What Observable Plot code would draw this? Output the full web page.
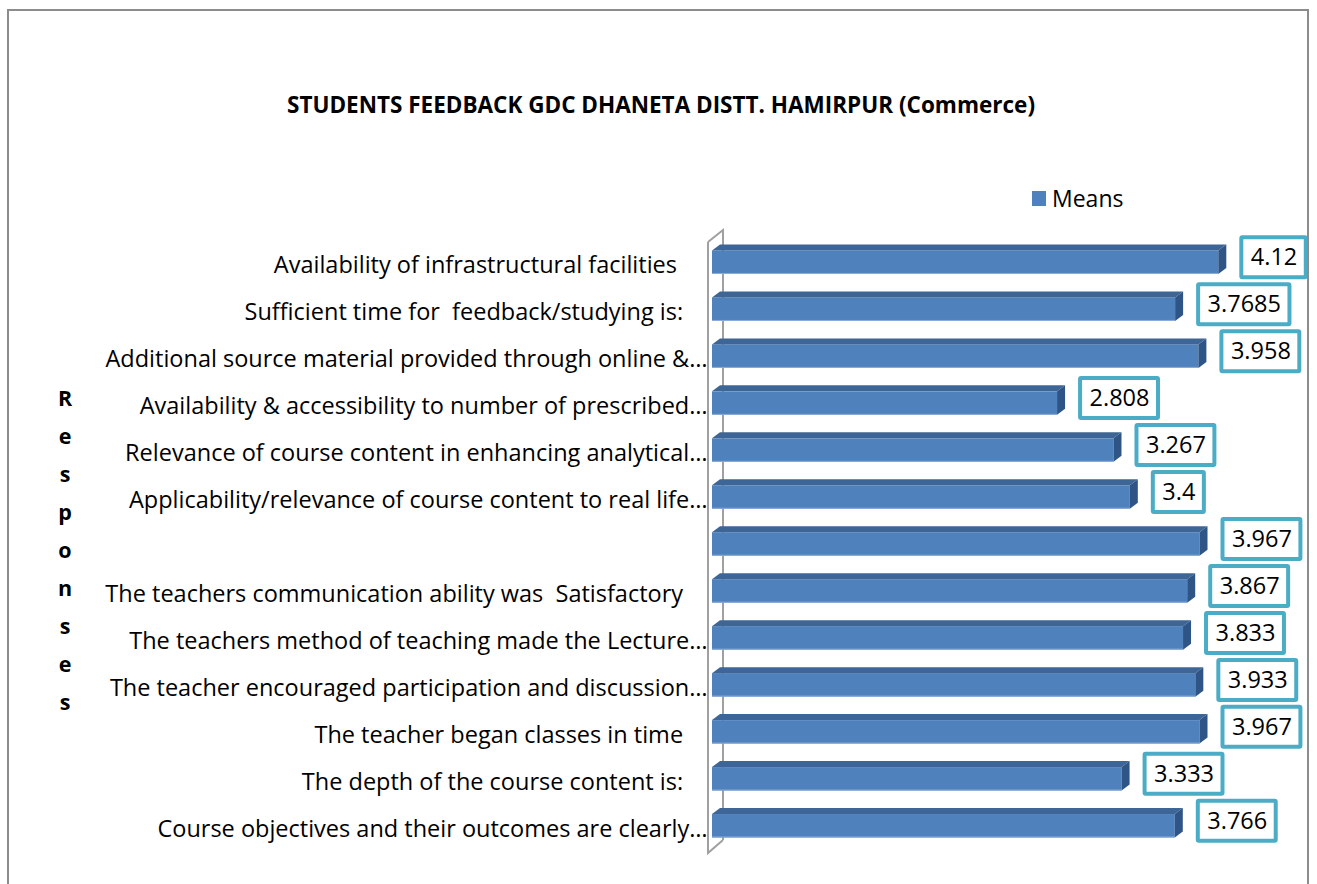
<!DOCTYPE html>
<html>
<head>
<meta charset="utf-8">
<script src="https://cdn.jsdelivr.net/npm/d3@7"></script>
<script src="https://cdn.jsdelivr.net/npm/@observablehq/plot@0.6"></script>
<style>
  body { margin: 0; background: #fff; font-family: "Open Sans", "Noto Sans", sans-serif; }
  #wrap { position: relative; width: 1317px; height: 884px; overflow: hidden; background: #fff; }
  #frame { position: absolute; left: 7px; top: 9px; width: 1302px; height: 900px; border: 2px solid #8c8c8c; box-sizing: border-box; pointer-events: none; }
  #title { position: absolute; left: 0; width: 1322px; top: 89px; text-align: center; font-weight: 700; font-size: 22.5px; color: #000; }
  #legend { position: absolute; left: 1032px; top: 182px; font-size: 23px; color: #000; display: flex; align-items: center; }
  #legend .sw { width: 14px; height: 15px; background: #4F81BD; margin-right: 6px; }
  #ytitle { position: absolute; left: 50px; width: 30px; top: 379px; text-align: center; font-weight: 700; font-size: 21.5px; line-height: 38px; color: #000; }
  #chart { position: absolute; left: 0; top: 0; }
</style>
</head>
<body>
<div id="wrap">
  <div id="chart"></div>
  <div id="title"></div>
  <div id="legend"><div class="sw"></div><span id="legendText"></span></div>
  <div id="ytitle"></div>
  <div id="frame"></div>
</div>
<script>
const chartTitle = "STUDENTS FEEDBACK GDC DHANETA DISTT. HAMIRPUR (Commerce)";
const seriesName = "Means";
const axisTitle = "Responses";

const categories = [
  "Availability of infrastructural facilities     ",
  "Sufficient time for  feedback/studying is:    ",
  "Additional source material provided through online &…",
  "Availability & accessibility to number of prescribed…",
  "Relevance of course content in enhancing analytical…",
  "Applicability/relevance of course content to real life…",
  "",
  "The teachers communication ability was  Satisfactory    ",
  "The teachers method of teaching made the Lecture…",
  "The teacher encouraged participation and discussion…",
  "The teacher began classes in time    ",
  "The depth of the course content is:    ",
  "Course objectives and their outcomes are clearly…"
];
const means = [4.12, 3.7685, 3.958, 2.808, 3.267, 3.4, 3.967, 3.867, 3.833, 3.933, 3.967, 3.333, 3.766];
const valueLabels = ["4.12", "3.7685", "3.958", "2.808", "3.267", "3.4", "3.967", "3.867", "3.833", "3.933", "3.967", "3.333", "3.766"];

const data = categories.map((c, i) => ({category: c, value: means[i], label: valueLabels[i]}));

document.getElementById("title").textContent = chartTitle;
document.getElementById("legendText").textContent = seriesName;
document.getElementById("ytitle").innerHTML = axisTitle.split("").map(ch => `<div>${ch}</div>`).join("");

const FRONT = "#4F81BD", TOP = "#3D6696", SIDE = "#2F5486";
const DX = 8, DY = -6;
const LABEL_SIZE = 23.5;
const ctx = document.createElement("canvas").getContext("2d");
ctx.font = `${LABEL_SIZE}px 'Open Sans'`;

function bandOf(y) {
  if (typeof y.bandwidth === "function") return y.bandwidth();
  return Math.abs(y(categories[1]) - y(categories[0])) * 0.5;
}

// 3D wall at the category axis
const wallMark = (index, scales) => {
  const x = scales.x, y = scales.y;
  const x0 = x(0);
  const [r0, r1] = y.range();
  const g = d3.create("svg:g").attr("fill", "none").attr("stroke", "#a0a0a0").attr("stroke-width", 2);
  g.append("path").attr("d",
    `M${x0 - 4},${r0 + 15} L${x0 + 11},${r0 + 3} L${x0 + 11},${r1 - 21}` +
    ` M${x0 - 4},${r0 + 15} L${x0 - 4},${r1 - 8} L${x0 + 11},${r1 - 21}`);
  return g.node();
};

// top and side faces of the 3D bars
const facesMark = (index, scales) => {
  const x = scales.x, y = scales.y;
  const bw = bandOf(y);
  const x0 = x(0);
  const g = d3.create("svg:g");
  for (const d of data) {
    const x1 = x(d.value), yt = y(d.category), yb = yt + bw;
    g.append("path").attr("fill", TOP)
      .attr("d", `M${x0},${yt} L${x1},${yt} L${x1 + DX},${yt + DY} L${x0 + DX},${yt + DY}Z`);
    g.append("path").attr("fill", SIDE)
      .attr("d", `M${x1},${yt} L${x1 + DX},${yt + DY} L${x1 + DX},${yb + DY} L${x1},${yb}Z`);
    g.append("line").attr("x1", x0).attr("x2", x1).attr("y1", yb - 0.5).attr("y2", yb - 0.5)
      .attr("stroke", "#8FAEDA").attr("stroke-width", 1);
  }
  return g.node();
};

// boxes around the data labels
const LABEL_GAP = 21, PAD = 11, BOX_H = 44, LABEL_DY = -5;
const boxesMark = (index, scales) => {
  const x = scales.x, y = scales.y;
  const bw = bandOf(y);
  const g = d3.create("svg:g").attr("fill", "#fff").attr("stroke", "#4BACC6").attr("stroke-width", 4);
  for (const d of data) {
    const w = ctx.measureText(d.label).width + 2 * PAD;
    const L = x(d.value) + LABEL_GAP;
    const cy = y(d.category) + bw / 2 + LABEL_DY;
    g.append("rect").attr("x", L + 2).attr("y", cy - BOX_H / 2 + 2)
      .attr("width", w - 4).attr("height", BOX_H - 4).attr("rx", 1);
  }
  return g.node();
};

const chart = Plot.plot({
  width: 1317,
  height: 884,
  marginLeft: 712,
  marginRight: 52,
  marginTop: 227,
  marginBottom: 23,
  x: {domain: [0, 4.5], axis: null},
  y: {domain: categories, padding: 0.5, round: false, axis: null},
  style: {background: "transparent", fontFamily: "'Open Sans', sans-serif", overflow: "visible"},
  marks: [
    wallMark,
    Plot.barX(data, {x: "value", y: "category", fill: FRONT}),
    facesMark,
    Plot.text(data, {
      y: "category",
      text: d => d.category.replace(/ /g, "\u00a0"),
      frameAnchor: "left",
      textAnchor: "end",
      dx: -5,
      dy: 3,
      fontSize: 23.5,
      fill: "#000"
    }),
    boxesMark,
    Plot.text(data, {
      x: "value",
      y: "category",
      text: "label",
      textAnchor: "start",
      dx: LABEL_GAP + PAD,
      dy: LABEL_DY,
      fontSize: LABEL_SIZE,
      fill: "#000"
    })
  ]
});
document.getElementById("chart").appendChild(chart);
</script>
</body>
</html>
